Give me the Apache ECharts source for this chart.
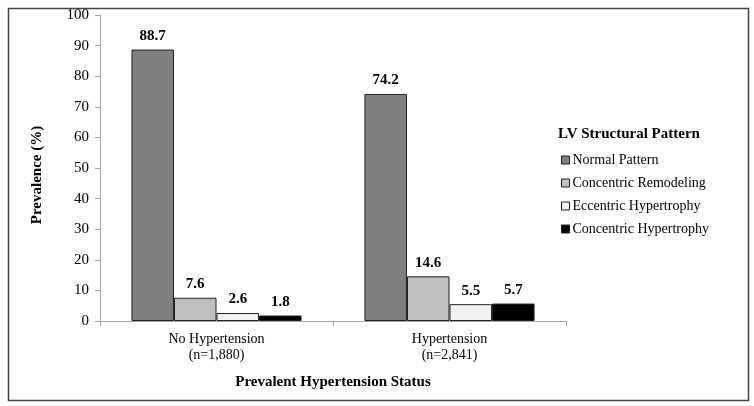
<!DOCTYPE html>
<html>
<head>
<meta charset="utf-8">
<script src="https://cdn.jsdelivr.net/npm/echarts@6/dist/echarts.min.js"></script>
<style>html,body{margin:0;padding:0;background:#fff}#c{width:754px;height:406px}</style>
</head>
<body>
<div id="c"></div>
<script>
var categories = ['No Hypertension\n(n=1,880)', 'Hypertension\n(n=2,841)'];
var seriesNames = ['Normal Pattern', 'Concentric Remodeling', 'Eccentric Hypertrophy', 'Concentric Hypertrophy'];
var normalPattern = [88.7, 74.2];
var concentricRemodeling = [7.6, 14.6];
var eccentricHypertrophy = [2.6, 5.5];
var concentricHypertrophy = [1.8, 5.7];
var yTicks = [0, 10, 20, 30, 40, 50, 60, 70, 80, 90, 100];

var FONT = '"Liberation Serif", "DejaVu Serif", serif';
var colors = ['#7f7f7f', '#bfbfbf', '#f2f2f2', '#000000'];
var values = [normalPattern, concentricRemodeling, eccentricHypertrophy, concentricHypertrophy];

var chart = echarts.init(document.getElementById('c'), null, {renderer: 'canvas'});
var series = seriesNames.map(function (n, i) {
  return {
    name: n,
    type: 'bar',
    data: values[i],
    barGap: '0%',
    barCategoryGap: '27%',
    itemStyle: {color: colors[i], borderColor: '#222', borderWidth: 1},
    label: {
      show: true, position: 'top', distance: 6,
      fontFamily: FONT, fontWeight: 'bold', fontSize: 15, color: '#000',
      formatter: function (p) { return p.value.toFixed(1); }
    }
  };
});

chart.setOption({
  animation: false,
  backgroundColor: '#fff',
  textStyle: {fontFamily: FONT},
  grid: {left: 100, right: 188, top: 15, bottom: 85, containLabel: false},
  title: {
    text: 'LV Structural Pattern', left: 553, top: 122,
    textStyle: {fontFamily: FONT, fontWeight: 'bold', fontSize: 15, color: '#000'}
  },
  legend: {
    orient: 'vertical', left: 556, top: 148,
    itemWidth: 8, itemHeight: 8, itemGap: 9,
    icon: 'rect',
    textStyle: {fontFamily: FONT, fontSize: 14, color: '#000', padding: [0, 0, 0, -2]},
    data: seriesNames.map(function (n) { return {name: n, itemStyle: {borderColor: '#222', borderWidth: 1}}; })
  },
  xAxis: {
    type: 'category', data: categories,
    name: 'Prevalent Hypertension Status', nameLocation: 'middle', nameGap: 54,
    nameTextStyle: {fontFamily: FONT, fontWeight: 'bold', fontSize: 15, color: '#000'},
    axisLine: {lineStyle: {color: '#a6a6a6', width: 1}},
    axisTick: {show: true, length: 5, lineStyle: {color: '#a6a6a6'}},
    axisLabel: {fontFamily: FONT, fontSize: 14, color: '#000', margin: 10, lineHeight: 16}
  },
  yAxis: {
    type: 'value', min: yTicks[0], max: yTicks[yTicks.length - 1], interval: 10,
    name: 'Prevalence (%)', nameLocation: 'middle', nameGap: 55, nameRotate: 90,
    nameTextStyle: {fontFamily: FONT, fontWeight: 'bold', fontSize: 15, color: '#000', padding: [0, 14, 0, 0]},
    axisLine: {show: true, lineStyle: {color: '#a6a6a6', width: 1}},
    axisTick: {show: true, length: 5, lineStyle: {color: '#a6a6a6'}},
    splitLine: {show: false},
    axisLabel: {fontFamily: FONT, fontSize: 15, color: '#000', margin: 11}
  },
  graphic: [{
    type: 'rect', left: 6, top: 6, z: -1,
    shape: {width: 740, height: 392},
    style: {fill: 'none', stroke: '#444', lineWidth: 1.5}
  }],
  series: series
});
</script>
</body>
</html>
